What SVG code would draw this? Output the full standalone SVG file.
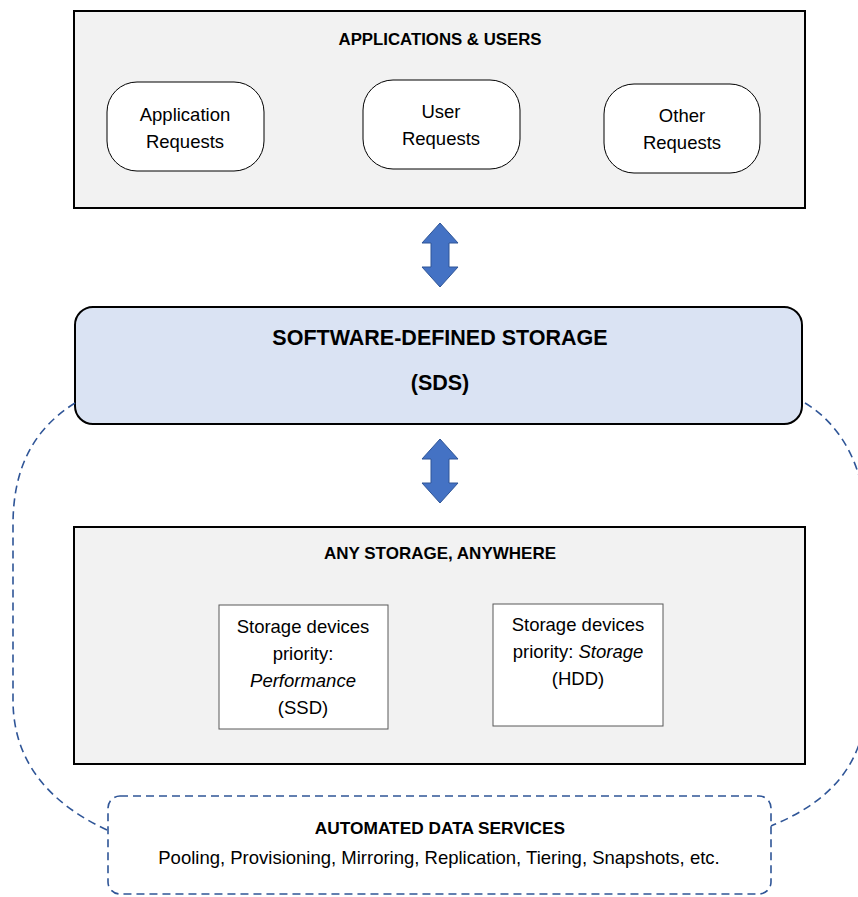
<svg xmlns="http://www.w3.org/2000/svg" width="858" height="897" viewBox="0 0 858 897">
<defs>
<style>
text{font-family:"Liberation Sans",Arial,sans-serif;fill:#000;text-anchor:middle;dominant-baseline:central}
.t{font-size:18.5px}
.b{font-weight:bold}
.panel{fill:#f2f2f2;stroke:#000;stroke-width:2}
.pill{fill:#fff;stroke:#000;stroke-width:1}
.dev{fill:#fff;stroke:#595959;stroke-width:1}
.dash{fill:none;stroke:#2f5597;stroke-width:1.6;stroke-dasharray:8 5}
.arr{fill:#4472c4;stroke:#2f5597;stroke-width:1}
</style>
</defs>
<rect width="858" height="897" fill="#fff"/>
<g id="apps">
<rect class="panel" x="74" y="11" width="731" height="197"/>
<text class="b" x="440" y="39" font-size="16.8">APPLICATIONS &amp; USERS</text>
</g>
<g id="app-req">
<rect class="pill" x="107" y="82" width="157" height="89" rx="30"/>
<text class="t" x="185" y="114">Application</text>
<text class="t" x="185" y="141">Requests</text>
</g>
<g id="user-req">
<rect class="pill" x="363" y="80" width="157" height="89" rx="30"/>
<text class="t" x="441" y="111">User</text>
<text class="t" x="441" y="138">Requests</text>
</g>
<g id="other-req">
<rect class="pill" x="604" y="84" width="156" height="89" rx="30"/>
<text class="t" x="682" y="115">Other</text>
<text class="t" x="682" y="142">Requests</text>
</g>
<g id="sds">
<rect x="75" y="307" width="727" height="117" rx="18" fill="#dae3f3" stroke="#000" stroke-width="2"/>
<text class="b" x="440" y="338" font-size="21.5">SOFTWARE-DEFINED STORAGE</text>
<text class="b" x="440" y="383" font-size="21.5">(SDS)</text>
</g>
<g id="storage">
<rect class="panel" x="74" y="527" width="731" height="237"/>
<text class="b" x="440" y="553" font-size="17">ANY STORAGE, ANYWHERE</text>
</g>
<g id="ssd">
<rect class="dev" x="219" y="605" width="169" height="124"/>
<text class="t" x="303" y="626">Storage devices</text>
<text class="t" x="303" y="653">priority:</text>
<text class="t" x="303" y="680" font-style="italic">Performance</text>
<text class="t" x="303" y="707">(SSD)</text>
</g>
<g id="hdd">
<rect class="dev" x="493" y="604" width="170" height="122"/>
<text class="t" x="578" y="624">Storage devices</text>
<text class="t" x="578" y="651">priority: <tspan font-style="italic">Storage</tspan></text>
<text class="t" x="578" y="678">(HDD)</text>
</g>
<g id="services">
<rect x="108" y="796" width="663" height="98" rx="12" fill="#fff" stroke="#2f5597" stroke-width="1.6" stroke-dasharray="8 5"/>
<text class="b" x="440" y="828" font-size="17.3">AUTOMATED DATA SERVICES</text>
<text class="t" x="439" y="857">Pooling, Provisioning, Mirroring, Replication, Tiering, Snapshots, etc.</text>
</g>
<g id="connectors">
<path class="arr" d="M440,223 L458,243 L449,243 L449,267 L458,267 L440,287 L422,267 L431,267 L431,243 L422,243 Z"/>
<path class="arr" d="M440,439 L458,459 L449,459 L449,483 L458,483 L440,503 L422,483 L431,483 L431,459 L422,459 Z"/>
<path class="dash" d="M75,403 C32,430 13,470 13,525 L13,700 C13,770 60,808 107,830"/>
<path class="dash" d="M805,403 C842,425 866,470 866,525 L866,700 C866,770 822,805 771,826"/>
</g>
</svg>
